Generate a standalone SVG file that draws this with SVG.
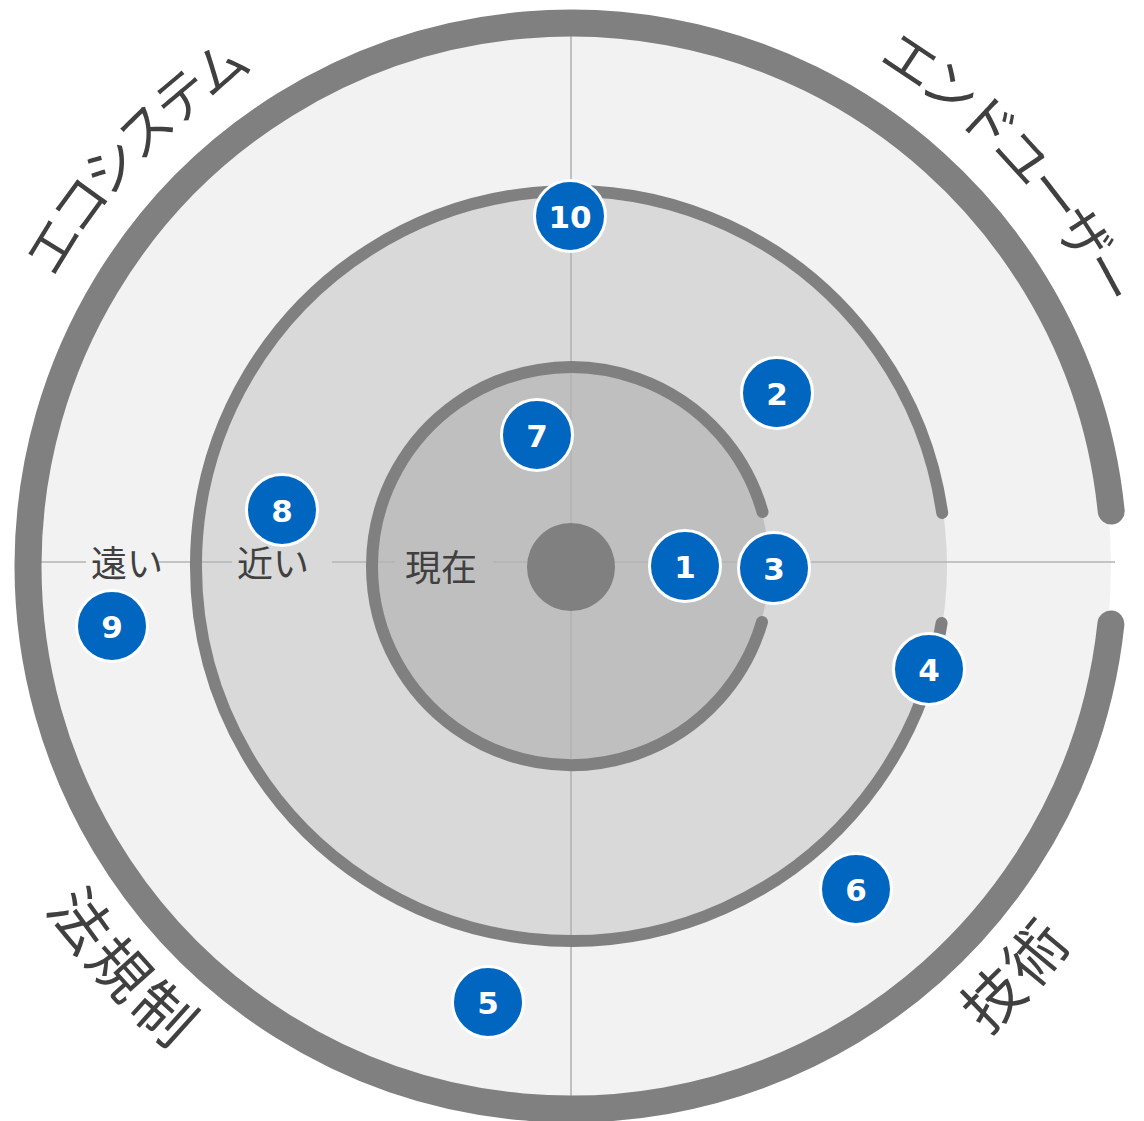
<svg xmlns="http://www.w3.org/2000/svg" width="1144" height="1121" viewBox="0 0 1144 1121">
  <style>
    .ring { fill: none; stroke: #808080; stroke-linecap: round; }
    .axis { stroke: #b3b3b3; stroke-width: 1.6; fill: none; }
    .axlbl { font-family: "Noto Sans CJK JP", "Noto Sans", sans-serif; font-size: 36px; fill: #404040; text-anchor: middle; dominant-baseline: central; }
    .cat { font-family: "Noto Sans CJK JP", "Noto Sans", sans-serif; fill: #404040; text-anchor: middle; }
    .kana { font-size: 54px; letter-spacing: -6px; }
    .kanji { font-size: 60px; letter-spacing: 5px; }
    .node circle { fill: #0066bf; stroke: #ffffff; stroke-width: 3; }
    .node text { font-family: "DejaVu Sans", "Liberation Sans", sans-serif; font-weight: bold; font-size: 31px; fill: #ffffff; text-anchor: middle; }
  </style>
  <defs>
    <path id="pTL" d="M -18.2 535.1 A 590 590 0 0 1 499.1 -19.6"/>
    <path id="pTR" d="M 648.0 -19.0 A 590 590 0 0 1 1160.4 540.3"/>
    <path id="pBL" d="M -55.6 587.9 A 627 627 0 0 0 483.7 1186.9"/>
    <path id="pBR" d="M 652.8 1187.6 A 627 627 0 0 0 1197.4 593.3"/>
  </defs>
  <rect width="1144" height="1121" fill="#ffffff"/>

  <g id="zones">
    <circle cx="571" cy="566" r="540" fill="#f2f2f2"/>
    <circle cx="571" cy="566" r="376" fill="#d9d9d9"/>
    <circle cx="571" cy="566" r="198" fill="#bfbfbf"/>
  </g>

  <g id="connectors">
    <line class="axis" x1="571" y1="30" x2="571" y2="1100"/>
    <line class="axis" x1="40" y1="562" x2="86" y2="562"/>
    <line class="axis" x1="158" y1="562" x2="232" y2="562"/>
    <line class="axis" x1="332" y1="562" x2="395" y2="562"/>
    <line class="axis" x1="493" y1="562" x2="1115" y2="562"/>
  </g>

  <g id="rings">
    <path class="ring" stroke-width="27" d="M 1111.2 511 A 543 543 0 1 0 1110.9 624"/>
    <path class="ring" stroke-width="12" d="M 942.2 513 A 375 375 0 1 0 941.6 623"/>
    <path class="ring" stroke-width="12" d="M 762.5 512 A 199 199 0 1 0 762 622"/>
    <circle id="center" cx="571" cy="567" r="44" fill="#808080"/>
  </g>

  <g id="axis-labels">
    <text class="axlbl" x="127" y="561">遠い</text>
    <text class="axlbl" x="273" y="561">近い</text>
    <text class="axlbl" x="441" y="565">現在</text>
  </g>

  <g id="categories">
    <text class="cat kana"><textPath href="#pTL" startOffset="50%">エコシステム</textPath></text>
    <text class="cat kana"><textPath href="#pTR" startOffset="50%">エンドユーザー</textPath></text>
    <text class="cat kanji"><textPath href="#pBL" startOffset="50%">法規制</textPath></text>
    <text class="cat kanji"><textPath href="#pBR" startOffset="50%">技術</textPath></text>
  </g>

  <g id="n1" class="node"><circle cx="685" cy="566" r="35.5"/><text x="685" y="578">1</text></g>
  <g id="n2" class="node"><circle cx="777" cy="393" r="35.5"/><text x="777" y="405">2</text></g>
  <g id="n3" class="node"><circle cx="774" cy="568" r="35.5"/><text x="774" y="580">3</text></g>
  <g id="n4" class="node"><circle cx="929" cy="669" r="35.5"/><text x="929" y="681">4</text></g>
  <g id="n5" class="node"><circle cx="488" cy="1002" r="35.5"/><text x="488" y="1014">5</text></g>
  <g id="n6" class="node"><circle cx="856" cy="889" r="35.5"/><text x="856" y="901">6</text></g>
  <g id="n7" class="node"><circle cx="537" cy="435" r="35.5"/><text x="537" y="447">7</text></g>
  <g id="n8" class="node"><circle cx="282" cy="510" r="35.5"/><text x="282" y="522">8</text></g>
  <g id="n9" class="node"><circle cx="112" cy="626" r="35.5"/><text x="112" y="638">9</text></g>
  <g id="n10" class="node"><circle cx="570" cy="216" r="35.5"/><text x="570" y="228">10</text></g>
</svg>
